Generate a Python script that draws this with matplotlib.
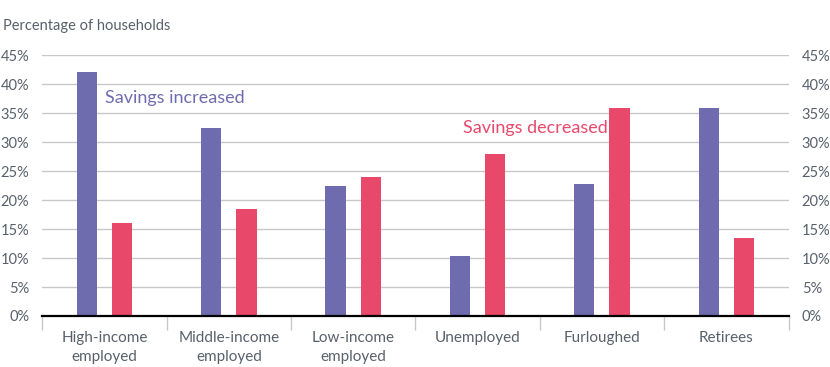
import matplotlib
matplotlib.use("Agg")
import matplotlib.pyplot as plt
import matplotlib.ticker as mticker
import numpy as np

plt.rcParams["font.family"] = ["Lato", "DejaVu Sans"]

categories = ["High-income\nemployed", "Middle-income\nemployed", "Low-income\nemployed",
              "Unemployed", "Furloughed", "Retirees"]
increased = [42.1, 32.4, 22.5, 10.3, 22.8, 35.9]
decreased = [16.0, 18.4, 24.0, 27.9, 35.9, 13.5]

purple = "#6e6cae"
red = "#e8496b"
text_col = "#58616b"

fig = plt.figure(figsize=(8.3, 3.67), dpi=100)
ax = fig.add_axes([0.051, 0.139, 0.899, 0.71])

x = np.arange(len(categories))
ax.bar(x - 0.142, increased, width=0.163, color=purple, zorder=3)
ax.bar(x + 0.142, decreased, width=0.163, color=red, zorder=3)

ax.set_xlim(-0.5, len(categories) - 0.5)
ax.set_ylim(0, 45)
ax.yaxis.set_major_locator(mticker.MultipleLocator(5))
ax.yaxis.set_major_formatter(mticker.FuncFormatter(lambda v, _: f"{int(v)}%"))
ax.grid(axis="y", color="#c8c8c8", linewidth=1, zorder=0)

for s in ["top", "left", "right"]:
    ax.spines[s].set_visible(False)
ax.spines["bottom"].set_color("black")
ax.spines["bottom"].set_linewidth(1.6)
ax.spines["bottom"].set_zorder(4)

ax.set_xticks(x)
ax.set_xticklabels(categories, fontsize=11, color=text_col, linespacing=1.45)
ax.set_xticks(np.arange(len(categories) + 1) - 0.5, minor=True)
ax.tick_params(axis="x", which="major", length=0, pad=11)
ax.tick_params(axis="x", which="minor", length=10, color="#c8c8c8", width=1)
ax.tick_params(axis="y", left=False, right=False, labelleft=True, labelright=True,
               labelsize=10.5, labelcolor=text_col, pad=6)

ax.text(0.0, 37.6, "Savings increased", color=purple, fontsize=13, va="center", ha="left")
ax.text(2.88, 32.5, "Savings decreased", color=red, fontsize=13, va="center", ha="left")
fig.text(0.004, 0.928, "Percentage of households", color=text_col, fontsize=10.5, va="center", ha="left")

fig.savefig("out.png", dpi=100)
